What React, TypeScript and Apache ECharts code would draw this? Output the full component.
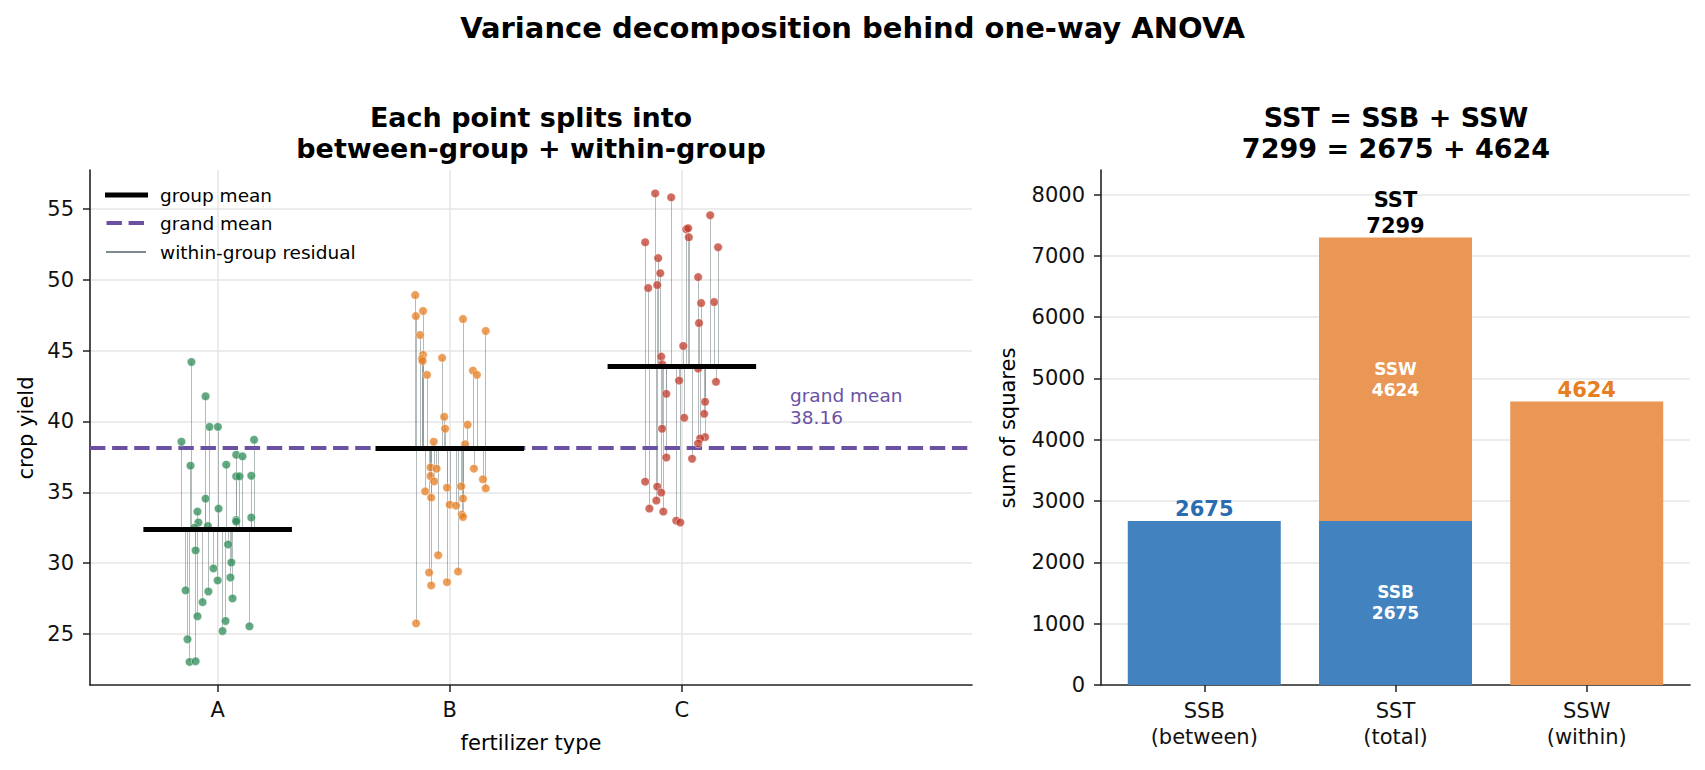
import React, { useEffect, useRef } from "react";
import * as echarts from "echarts";

const FONT = "DejaVu Sans";

// ---------- left panel data ----------
const groups = ["A", "B", "C"];
const groupMeans = [32.4, 38.1, 43.9];
const grandMean = 38.16;
const yTicksLeft = [25, 30, 35, 40, 45, 50, 55];

const jitterA = [-0.113, -0.052, -0.035, 0.001, -0.156, 0.157, 0.08, 0.107, -0.117, 0.037, 0.08, 0.094, 0.145, -0.052, 0.004, -0.087, -0.083, -0.042, 0.08, 0.08, 0.145, -0.1, -0.095, 0.045, 0.059, -0.018, 0.055, 0.0, -0.138, -0.04, 0.064, -0.065, -0.087, 0.034, 0.021, 0.137, -0.13, -0.121, -0.095];
const yieldA = [44.2, 41.78, 39.62, 39.62, 38.57, 38.71, 37.65, 37.54, 36.88, 36.95, 36.13, 36.13, 36.17, 34.55, 33.85, 33.64, 32.87, 32.63, 33.05, 32.93, 33.22, 32.5, 30.9, 31.32, 30.05, 29.63, 28.99, 28.78, 28.08, 28.0, 27.51, 27.25, 26.25, 25.92, 25.21, 25.54, 24.63, 23.03, 23.08];

const jitterB = [-0.149, -0.146, -0.115, 0.057, 0.155, -0.128, -0.115, -0.12, -0.117, -0.033, -0.098, 0.1, 0.117, -0.024, -0.02, 0.077, -0.069, 0.066, -0.083, -0.057, -0.083, -0.067, 0.104, 0.143, 0.155, -0.106, -0.08, -0.012, 0.049, 0.057, 0.0, 0.027, 0.052, 0.057, -0.05, -0.089, 0.036, -0.08, -0.012, -0.145];
const yieldB = [48.92, 47.44, 47.8, 47.23, 46.39, 46.1, 44.7, 44.42, 44.27, 44.49, 43.29, 43.59, 43.29, 40.33, 39.49, 39.77, 38.57, 38.4, 36.76, 36.67, 36.15, 35.77, 36.67, 35.92, 35.28, 35.07, 34.63, 35.33, 35.42, 34.56, 34.13, 34.06, 33.43, 33.26, 30.56, 29.34, 29.41, 28.43, 28.66, 25.75];

const jitterC = [-0.115, -0.046, 0.122, 0.019, 0.027, 0.03, -0.158, 0.156, -0.102, -0.093, 0.07, -0.106, -0.145, 0.083, 0.139, 0.074, 0.006, -0.089, -0.085, 0.07, -0.012, 0.147, -0.067, 0.1, 0.096, 0.01, -0.085, 0.1, 0.079, 0.07, -0.067, 0.044, -0.158, -0.106, -0.089, -0.11, -0.14, -0.08, -0.024, -0.007];
const yieldC = [56.1, 55.82, 54.56, 53.57, 53.64, 53.0, 52.65, 52.3, 51.53, 50.47, 50.19, 49.63, 49.42, 48.36, 48.43, 46.95, 45.33, 44.58, 44.04, 43.73, 42.89, 42.8, 41.95, 41.39, 40.54, 40.26, 39.49, 38.9, 38.8, 38.45, 37.46, 37.37, 35.75, 35.4, 34.98, 34.42, 33.85, 33.64, 33.0, 32.87];

const jitters = [jitterA, jitterB, jitterC];
const yields = [yieldA, yieldB, yieldC];
const pointColors = ["#2e8b57", "#e67e22", "#c0392b"];

// ---------- right panel data ----------
const ssCategories = ["SSB\n(between)", "SST\n(total)", "SSW\n(within)"];
const SSB = 2675;
const SSW = 4624;
const SST = 7299;
const yTicksRight = [0, 1000, 2000, 3000, 4000, 5000, 6000, 7000, 8000];

const BLUE = "#4282be";
const ORANGE = "#ea9654";
const BLUE_TEXT = "#2b6cb0";
const ORANGE_TEXT = "#e67e22";
const PURPLE = "#6a51a3";
const GRID = "#e6e6e6";
const AXIS = "#222";

export default function App() {
  const ref = useRef<HTMLDivElement>(null);

  useEffect(() => {
    document.body.style.margin = "0";
    const chart = echarts.init(ref.current!, null, { renderer: "svg" });

    const residuals: any[] = [];
    groups.forEach((_, g) => {
      jitters[g].forEach((dx, k) => {
        residuals.push({ coords: [[g + dx, yields[g][k]], [g + dx, groupMeans[g]]] });
      });
    });

    const barSegments = [
      [0, 0, SSB, 0],
      [1, 0, SSB, 0],
      [1, SSB, SST, 1],
      [2, 0, SSW, 1],
    ];
    const barColors = [BLUE, ORANGE];

    const barLabels = [
      { x: 0, y: SSB, text: String(SSB), color: BLUE_TEXT, size: 21, mid: false, lh: 26 },
      { x: 1, y: SST, text: `SST\n${SST}`, color: "#000", size: 21, mid: false, lh: 26 },
      { x: 2, y: SSW, text: String(SSW), color: ORANGE_TEXT, size: 21, mid: false, lh: 26 },
      { x: 1, y: SSB / 2, text: `SSB\n${SSB}`, color: "#fff", size: 17, mid: true, lh: 21 },
      { x: 1, y: SSB + SSW / 2, text: `SSW\n${SSW}`, color: "#fff", size: 17, mid: true, lh: 21 },
    ];

    const axisCommon = (gi: number) => ({
      gridIndex: gi,
      type: "value",
      axisLine: { show: true, onZero: false, lineStyle: { color: AXIS, width: 1.6 } },
      splitLine: { show: false },
    });

    const text = (x: number, y: number, t: string, size: number, opts: any = {}) => ({
      type: "text",
      x,
      y,
      rotation: opts.rotation || 0,
      z: 100,
      style: {
        text: t,
        fill: opts.color || "#000",
        fontSize: size,
        fontWeight: opts.bold ? "bold" : "normal",
        fontFamily: FONT,
        lineHeight: opts.lh || Math.round(size * 1.18),
        align: opts.align || "center",
        verticalAlign: "middle",
        textAlign: opts.align || "center",
        textVerticalAlign: "middle",
      },
    });

    const option: any = {
      animation: false,
      textStyle: { fontFamily: FONT },
      grid: [
        { left: 90, top: 170, width: 882, height: 515 },
        { left: 1101, top: 170, width: 589, height: 515 },
      ],
      xAxis: [
        {
          ...axisCommon(0),
          min: -0.55,
          max: 3.25,
          axisTick: { show: true, length: 7, customValues: [0, 1, 2], lineStyle: { color: AXIS, width: 1.5 } },
          axisLabel: {
            customValues: [0, 1, 2],
            formatter: (v: number) => groups[Math.round(v)] ?? "",
            fontSize: 21,
            color: "#111",
            margin: 14,
            fontFamily: FONT,
          },
        },
        {
          ...axisCommon(1),
          min: -0.54,
          max: 2.54,
          axisTick: { show: true, length: 7, customValues: [0, 1, 2], lineStyle: { color: AXIS, width: 1.5 } },
          axisLabel: {
            customValues: [0, 1, 2],
            formatter: (v: number) => ssCategories[Math.round(v)] ?? "",
            fontSize: 21,
            lineHeight: 26,
            color: "#111",
            margin: 13,
            fontFamily: FONT,
          },
        },
      ],
      yAxis: [
        {
          ...axisCommon(0),
          min: 21.4,
          max: 57.75,
          axisTick: { show: true, length: 7, customValues: yTicksLeft, lineStyle: { color: AXIS, width: 1.5 } },
          axisLabel: {
            customValues: yTicksLeft,
            formatter: (v: number) => String(v),
            fontSize: 21,
            color: "#111",
            margin: 16,
            fontFamily: FONT,
          },
        },
        {
          ...axisCommon(1),
          min: 0,
          max: 8400,
          axisTick: { show: true, length: 7, customValues: yTicksRight, lineStyle: { color: AXIS, width: 1.5 } },
          axisLabel: {
            customValues: yTicksRight,
            formatter: (v: number) => String(v),
            fontSize: 21,
            color: "#111",
            margin: 16,
            fontFamily: FONT,
          },
        },
      ],
      series: [
        {
          type: "line",
          xAxisIndex: 0,
          yAxisIndex: 0,
          data: [],
          silent: true,
          z: 0,
          markLine: {
            silent: true,
            z: 0,
            symbol: ["none", "none"],
            label: { show: false },
            lineStyle: { color: GRID, width: 1.5, type: "solid" },
            data: [...yTicksLeft.map((v) => ({ yAxis: v })), ...groups.map((_, i) => ({ xAxis: i }))],
          },
        },
        {
          type: "line",
          xAxisIndex: 1,
          yAxisIndex: 1,
          data: [],
          silent: true,
          z: 0,
          markLine: {
            silent: true,
            z: 0,
            symbol: ["none", "none"],
            label: { show: false },
            lineStyle: { color: GRID, width: 1.5, type: "solid" },
            data: yTicksRight.filter((v) => v > 0).map((v) => ({ yAxis: v })),
          },
        },
        {
          type: "lines",
          coordinateSystem: "cartesian2d",
          xAxisIndex: 0,
          yAxisIndex: 0,
          silent: true,
          z: 2,
          lineStyle: { color: "#7f8c8d", width: 1, opacity: 0.6 },
          data: residuals,
        },
        {
          type: "line",
          xAxisIndex: 0,
          yAxisIndex: 0,
          data: [],
          silent: true,
          z: 3,
          markLine: {
            silent: true,
            z: 3,
            symbol: ["none", "none"],
            label: { show: false },
            lineStyle: { color: PURPLE, width: 4, type: [15.4, 6.7] },
            data: [{ yAxis: grandMean }],
          },
        },
        ...groups.map((_, g) => ({
          type: "scatter",
          xAxisIndex: 0,
          yAxisIndex: 0,
          z: 4,
          symbolSize: 8.5,
          itemStyle: { color: pointColors[g], opacity: 0.75, borderColor: "#fff", borderWidth: 0.6 },
          data: jitters[g].map((dx, k) => [g + dx, yields[g][k]]),
        })),
        {
          type: "lines",
          coordinateSystem: "cartesian2d",
          xAxisIndex: 0,
          yAxisIndex: 0,
          silent: true,
          z: 5,
          lineStyle: { color: "#000", width: 4.8, opacity: 1, cap: "butt" },
          data: groupMeans.map((m, i) => ({ coords: [[i - 0.32, m], [i + 0.32, m]] })),
        },
        {
          type: "custom",
          xAxisIndex: 1,
          yAxisIndex: 1,
          z: 2,
          silent: true,
          encode: { x: 0, y: [1, 2] },
          data: barSegments,
          renderItem: (params: any, api: any) => {
            const x = api.value(0);
            const b = api.value(1);
            const t = api.value(2);
            const c = api.value(3);
            const p0 = api.coord([x - 0.4, b]);
            const p1 = api.coord([x + 0.4, t]);
            return {
              type: "rect",
              shape: { x: p0[0], y: p1[1], width: p1[0] - p0[0], height: p0[1] - p1[1] },
              style: { fill: barColors[c] },
            };
          },
        },
        {
          type: "custom",
          xAxisIndex: 1,
          yAxisIndex: 1,
          z: 6,
          silent: true,
          encode: { x: 0, y: 1 },
          data: barLabels.map((l) => [l.x, l.y]),
          renderItem: (params: any, api: any) => {
            const l = barLabels[params.dataIndex];
            const p = api.coord([api.value(0), api.value(1)]);
            return {
              type: "text",
              x: p[0],
              y: l.mid ? p[1] : p[1] + 1.5,
              style: {
                text: l.text,
                fill: l.color,
                fontSize: l.size,
                fontWeight: "bold",
                fontFamily: FONT,
                lineHeight: l.lh,
                align: "center",
                verticalAlign: l.mid ? "middle" : "bottom",
              },
            };
          },
        },
      ],
      graphic: [
        text(852.5, 28, "Variance decomposition behind one-way ANOVA", 29, { bold: true }),
        text(531, 132.5, "Each point splits into\nbetween-group + within-group", 27, { bold: true, lh: 31 }),
        text(1396, 132.5, `SST = SSB + SSW\n${SST} = ${SSB} + ${SSW}`, 27, { bold: true, lh: 31 }),
        text(531, 743, "fertilizer type", 21),
        text(26, 428, "crop yield", 21, { rotation: Math.PI / 2 }),
        text(1008, 428, "sum of squares", 21, { rotation: Math.PI / 2 }),
        text(790, 406.5, `grand mean\n${grandMean.toFixed(2)}`, 18.5, { color: PURPLE, align: "left", lh: 22 }),
        // legend
        { type: "line", z: 100, shape: { x1: 105, y1: 195, x2: 148, y2: 195 }, style: { stroke: "#000", lineWidth: 4.8 } },
        { type: "line", z: 100, shape: { x1: 106.5, y1: 223, x2: 146, y2: 223 }, style: { stroke: PURPLE, lineWidth: 4, lineDash: [15.4, 6.7] } },
        { type: "line", z: 100, shape: { x1: 106, y1: 252, x2: 146, y2: 252 }, style: { stroke: "#7f8c8d", lineWidth: 1.8 } },
        text(160, 195, "group mean", 18.5, { align: "left" }),
        text(160, 223, "grand mean", 18.5, { align: "left" }),
        text(160, 252, "within-group residual", 18.5, { align: "left" }),
      ],
    };

    chart.setOption(option);
    return () => chart.dispose();
  }, []);

  return <div ref={ref} style={{ width: 1705, height: 770 }} />;
}
